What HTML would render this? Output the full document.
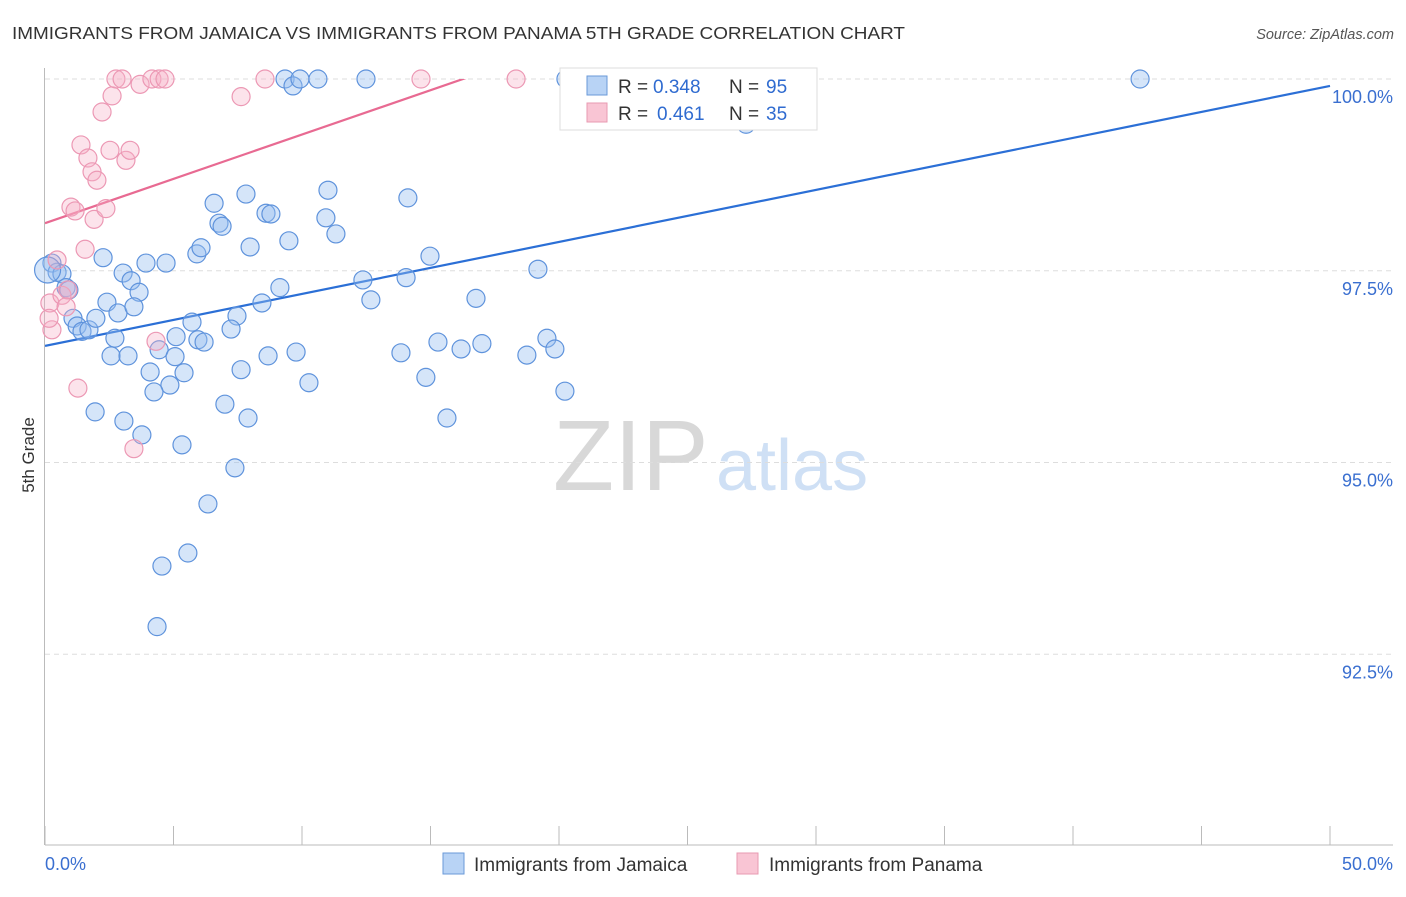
<!DOCTYPE html>
<html><head><meta charset="utf-8"><style>
body{margin:0;background:#fff;font-family:"Liberation Sans",sans-serif;}
svg text{font-family:"Liberation Sans",sans-serif;}
</style></head><body>
<svg id="chart" width="1406" height="892" xmlns="http://www.w3.org/2000/svg">
<text x="12" y="39" font-size="17.5" textLength="893" lengthAdjust="spacingAndGlyphs" fill="#333">IMMIGRANTS FROM JAMAICA VS IMMIGRANTS FROM PANAMA 5TH GRADE CORRELATION CHART</text>
<text x="1394" y="39" font-size="14.5" fill="#555" text-anchor="end" font-style="italic">Source: ZipAtlas.com</text>
<g>
<text x="553" y="490" font-size="100" fill="#d8d8d8" font-family="Liberation Serif, serif">ZIP</text>
<text x="716" y="490" font-size="72" fill="#cfe0f5">atlas</text>
</g>
<g id="grid"></g>
<g id="axes"></g>
<defs><clipPath id="clip"><rect x="45" y="79" width="1350" height="767"/></clipPath></defs>
<g id="lines" clip-path="url(#clip)"></g>
<g id="points"></g>
<text transform="translate(34,455) rotate(-90)" font-size="17" fill="#333" text-anchor="middle">5th Grade</text>
<g>
<rect x="560" y="68" width="257" height="62" fill="#fff" stroke="#ddd"/>
<rect x="587" y="76" width="20" height="19" fill="#b8d3f5" stroke="#6a9ad8"/>
<rect x="587" y="103" width="20" height="19" fill="#f9c5d4" stroke="#e89ab2"/>
<text x="618" y="93" font-size="19" fill="#333">R =</text>
<text x="653" y="93" font-size="19" fill="#2f6bd0">0.348</text>
<text x="729" y="93" font-size="19" fill="#333">N =</text>
<text x="766" y="93" font-size="19" fill="#2f6bd0">95</text>
<text x="618" y="120" font-size="19" fill="#333">R =</text>
<text x="657" y="120" font-size="19" fill="#2f6bd0">0.461</text>
<text x="729" y="120" font-size="19" fill="#333">N =</text>
<text x="766" y="120" font-size="19" fill="#2f6bd0">35</text>
</g>
<g>
<rect x="443" y="853" width="21" height="21" fill="#b8d3f5" stroke="#6a9ad8"/>
<text x="474" y="871" font-size="19" fill="#333">Immigrants from Jamaica</text>
<rect x="737" y="853" width="21" height="21" fill="#f9c5d4" stroke="#e89ab2"/>
<text x="769" y="871" font-size="19" fill="#333">Immigrants from Panama</text>
</g>
</svg>
<script>
const xTicks=[0,5,10,15,20,25,30,35,40,45,50];
const yTicks=[100,97.5,95,92.5];
const yTickLabels=["100.0%","97.5%","95.0%","92.5%"];
const xEndLabels=["0.0%","50.0%"];
const jamX=[0.27,0.47,0.66,0.82,0.93,1.09,1.25,1.44,1.71,1.98,2.26,2.41,2.72,2.84,2.57,3.23,3.04,3.35,3.66,3.46,3.93,4.71,4.09,4.44,4.86,5.06,5.10,5.41,4.24,3.07,1.95,3.77,5.33,5.72,5.95,6.19,5.91,6.07,6.58,6.77,6.89,7.82,7.98,8.60,8.79,9.49,9.14,8.44,7.47,7.24,7.63,7.00,7.90,7.39,6.34,5.56,4.55,4.36,8.68,9.77,10.27,11.01,10.93,11.32,9.34,9.65,9.92,10.62,12.49,12.37,12.68,14.05,14.12,14.98,13.85,14.82,15.29,16.19,17.00,15.64,16.77,19.18,18.75,19.53,19.84,20.23,20.27,27.28,42.61,0.1];
const jamY=[97.60,97.48,97.46,97.28,97.25,96.88,96.78,96.71,96.73,96.88,97.67,97.09,96.62,96.95,96.39,96.39,97.47,97.37,97.22,97.03,97.60,97.60,96.18,96.47,96.01,96.38,96.64,96.17,95.92,95.54,95.66,95.36,95.23,96.83,96.60,96.57,97.72,97.80,98.38,98.12,98.08,98.50,97.81,98.25,98.24,97.89,97.28,97.08,96.91,96.74,96.21,95.76,95.58,94.93,94.46,93.82,93.65,92.86,96.39,96.44,96.04,98.55,98.19,97.98,100,99.91,100,100,100,97.38,97.12,97.41,98.45,97.69,96.43,96.11,96.57,96.48,96.55,95.58,97.14,97.52,96.40,96.62,96.48,95.93,100,99.41,100,97.51];
const panX=[0.19,0.27,0.47,0.66,0.89,0.82,1.01,1.17,1.28,1.56,1.40,1.67,1.83,2.02,1.91,2.37,2.22,2.61,2.76,3.00,2.53,3.15,3.31,3.70,4.16,4.44,4.67,4.32,3.46,7.63,8.56,14.63,18.33,26.26,0.16];
const panY=[97.08,96.73,97.64,97.18,97.25,97.03,98.33,98.28,95.97,97.78,99.14,98.97,98.79,98.68,98.17,98.31,99.57,99.78,100,100,99.07,98.94,99.07,99.93,100,100,100,96.58,95.18,99.77,100,100,100,100,96.88];
const jamTrend=[96.52,99.91];
const panTrend=[98.12,103.9];
const NS="http://www.w3.org/2000/svg";
const X=v=>45+v*25.7;
const Y=v=>79+(100-v)*76.7;
function mk(t,a,p){const e=document.createElementNS(NS,t);for(const k in a)e.setAttribute(k,a[k]);p.appendChild(e);return e;}
const grid=document.getElementById('grid'),axes=document.getElementById('axes');
yTicks.forEach((v,i)=>{
 const l=mk('line',{x1:45,x2:1393,y1:Y(v),y2:Y(v),stroke:'#ddd','stroke-dasharray':'5,4'},grid);
 
 
 const t=mk('text',{x:1393,y:Y(v)+24,'font-size':18,fill:'#3a6fd0','text-anchor':'end'},axes);
 t.textContent=yTickLabels[i];
 
 
});
mk('line',{x1:44.5,x2:44.5,y1:68,y2:845,stroke:'#bbb'},axes);
mk('line',{x1:45,x2:1393,y1:845,y2:845,stroke:'#bbb'},axes);
xTicks.forEach(v=>{
 const l=mk('line',{x1:X(v),x2:X(v),y1:826,y2:845,stroke:'#bbb'},axes);
 
 
});
[[0,'start',45],[50,'end',1393]].forEach((d,i)=>{
 const t=mk('text',{x:d[2],y:870,'font-size':18,fill:'#3a6fd0','text-anchor':d[1]},axes);
 t.textContent=xEndLabels[i];
 
 
});
const lines=document.getElementById('lines');
const bl=mk('line',{x1:X(0),y1:Y(jamTrend[0]),x2:X(50),y2:Y(jamTrend[1]),stroke:'#2b6fd6','stroke-width':2.2},lines);


const pl=mk('line',{x1:X(0),y1:Y(panTrend[0]),x2:X(50),y2:Y(panTrend[1]),stroke:'#e86a92','stroke-width':2.2},lines);


const pts=document.getElementById('points');
jamX.forEach((x,i)=>{
 const c=mk('circle',{cx:X(x),cy:Y(jamY[i]),r:i==jamX.length-1?13:9,fill:'rgba(150,190,240,0.4)',stroke:'#5f93dc','stroke-width':1.2},pts);
 
 
});
panX.forEach((x,i)=>{
 const c=mk('circle',{cx:X(x),cy:Y(panY[i]),r:9,fill:'rgba(245,175,198,0.35)',stroke:'#ec98b4','stroke-width':1.2},pts);
 
 
});
</script>
</body></html>
